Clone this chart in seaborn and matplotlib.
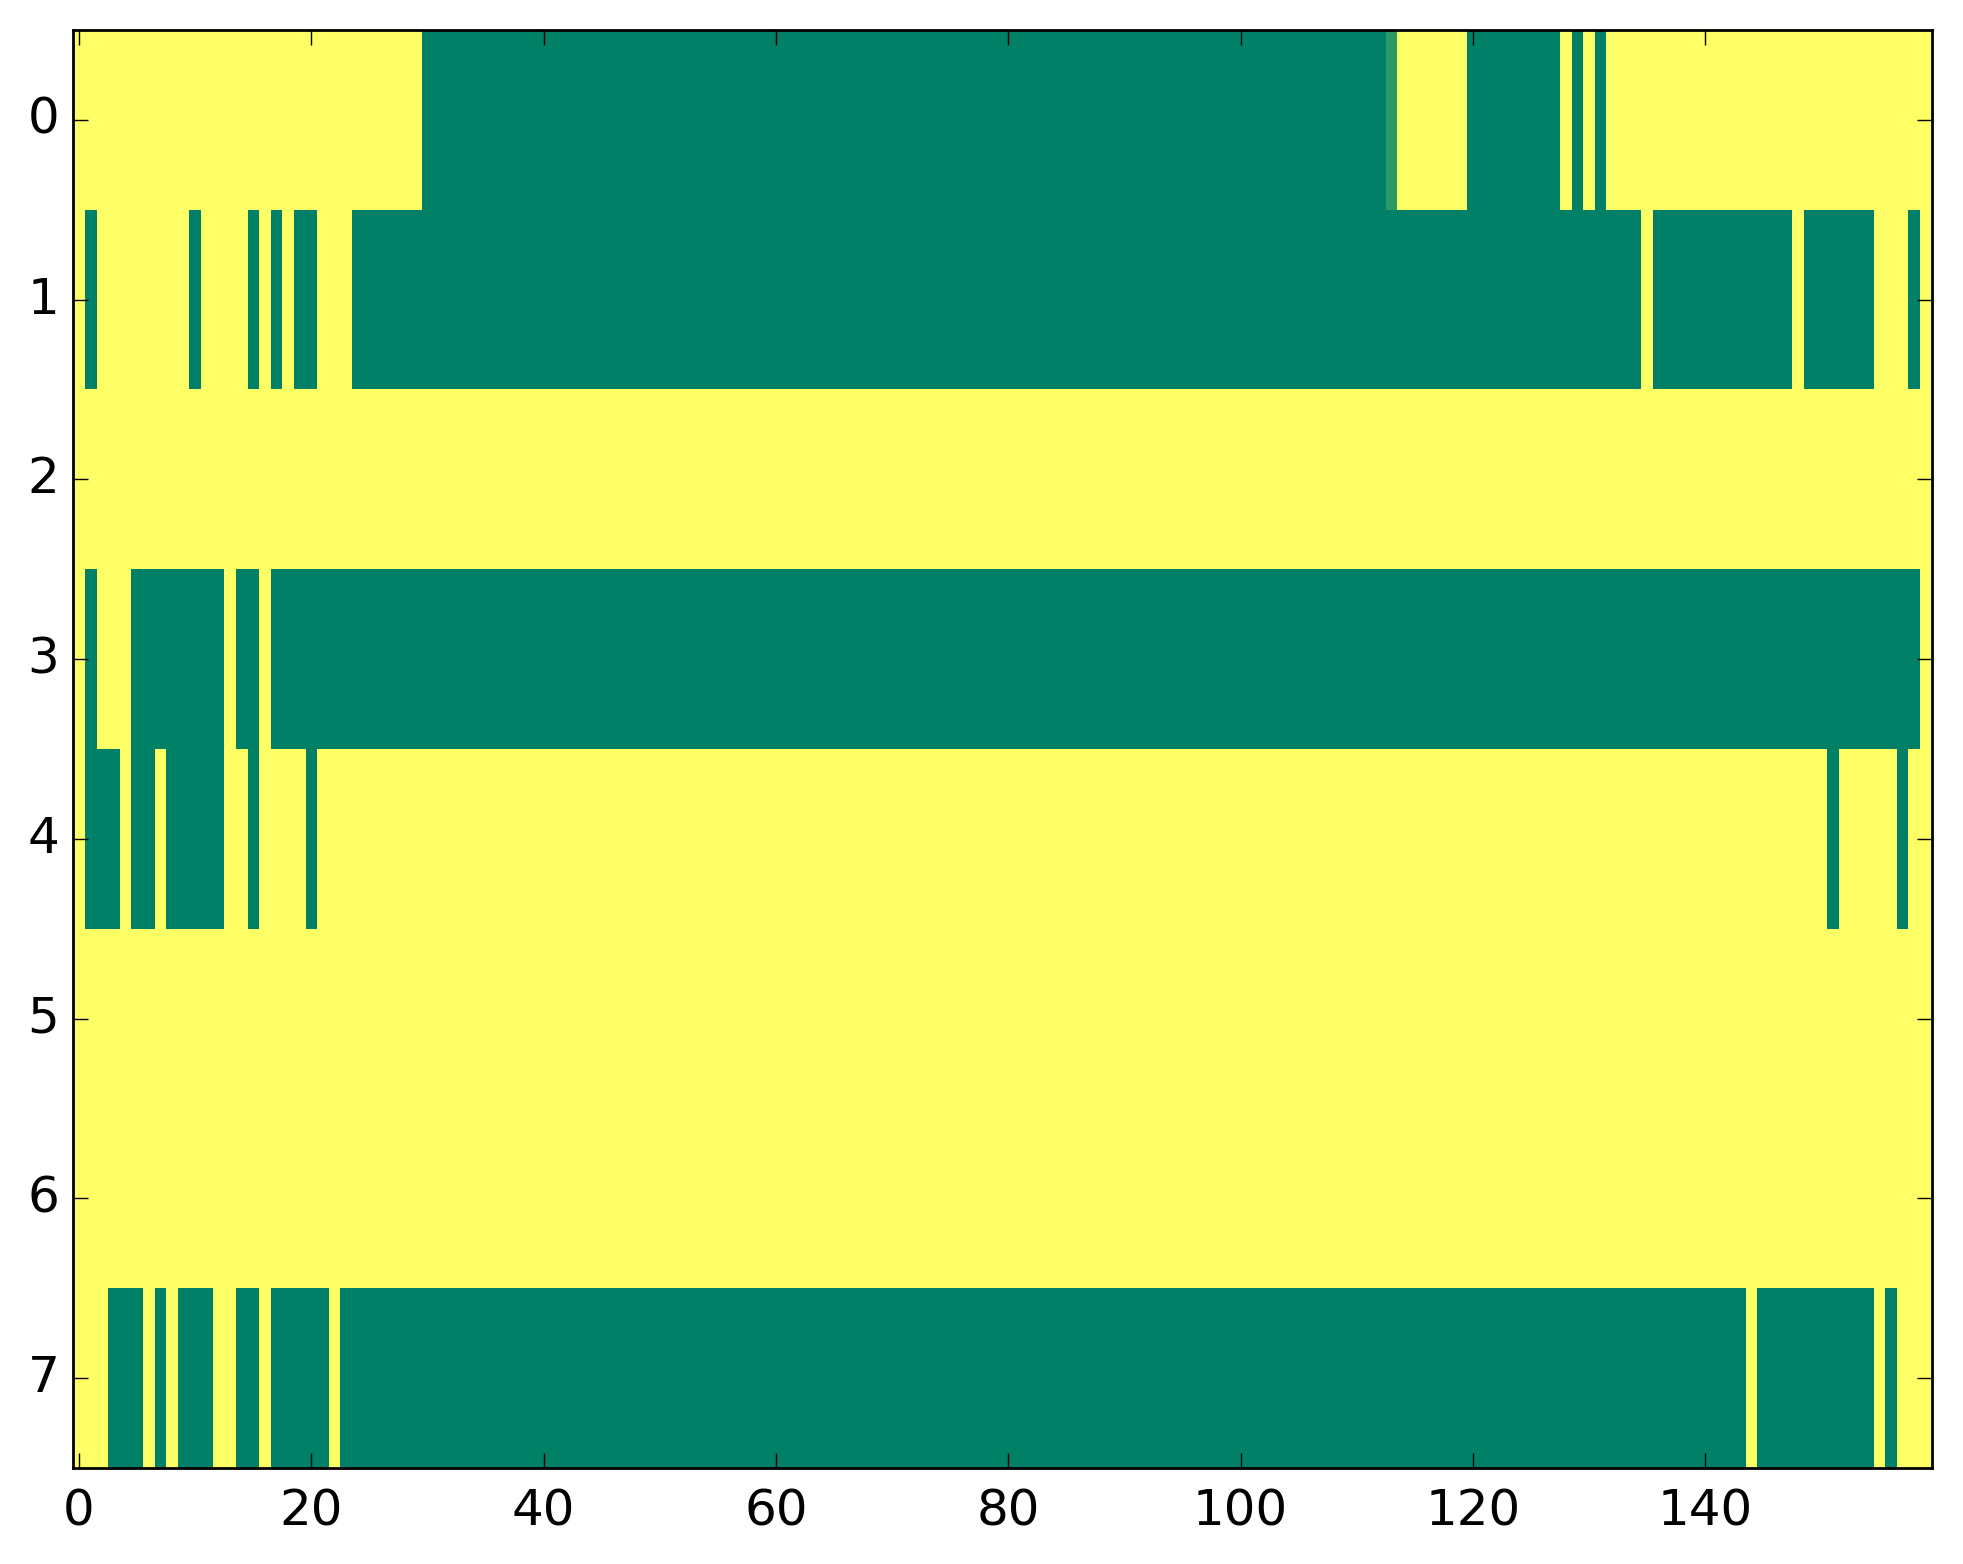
import numpy as np
import matplotlib
matplotlib.use("Agg")
import matplotlib.pyplot as plt
import seaborn as sns

N_ROWS = 8
N_COLS = 160

# runs of cells at value 0 (green), inclusive column ranges, per row
zero_runs_0 = [(30, 112), (120, 127), (129, 129), (131, 131)]
zero_runs_1 = [(1, 1), (10, 10), (15, 15), (17, 17), (19, 20), (24, 134),
               (136, 147), (149, 154), (158, 158)]
zero_runs_2 = []
zero_runs_3 = [(1, 1), (5, 12), (14, 15), (17, 158)]
zero_runs_4 = [(1, 3), (5, 6), (8, 12), (15, 15), (20, 20), (151, 151), (157, 157)]
zero_runs_5 = []
zero_runs_6 = []
zero_runs_7 = [(3, 5), (7, 7), (9, 11), (14, 15), (17, 21), (23, 143),
               (145, 154), (156, 156)]
# one odd cell with an in-between value
odd_cells = [(0, 113, 0.18)]

xtick_vals = [0, 20, 40, 60, 80, 100, 120, 140]
ytick_vals = [0, 1, 2, 3, 4, 5, 6, 7]

all_runs = [zero_runs_0, zero_runs_1, zero_runs_2, zero_runs_3,
            zero_runs_4, zero_runs_5, zero_runs_6, zero_runs_7]
mat = np.ones((N_ROWS, N_COLS))
for r, runs in enumerate(all_runs):
    for a, b in runs:
        mat[r, a:b + 1] = 0.0
for r, c, v in odd_cells:
    mat[r, c] = v

plt.rcParams["font.family"] = ["DejaVu Sans"]
fig = plt.figure(figsize=(1963 / 200, 1564 / 200), dpi=200)
ax = fig.add_axes([0.03734, 0.06138, 0.94671, 0.91944])
sns.heatmap(mat, cmap="summer", vmin=0, vmax=1, cbar=False, ax=ax)

for s in ax.spines.values():
    s.set_visible(True)
    s.set_linewidth(1.0)
    s.set_color("black")

ax.set_xticks([v + 0.5 for v in xtick_vals])
ax.set_xticklabels([str(v) for v in xtick_vals], rotation=0)
ax.set_yticks([v + 0.5 for v in ytick_vals])
ax.set_yticklabels([str(v) for v in ytick_vals], rotation=0)
ax.tick_params(direction="in", top=True, right=True, length=5.5, width=0.5,
               labelsize=18, colors="black")
ax.tick_params(axis="x", pad=7)
ax.tick_params(axis="y", pad=5)
ax.set_xlabel("")
ax.set_ylabel("")

fig.savefig("out.png", dpi=200)
